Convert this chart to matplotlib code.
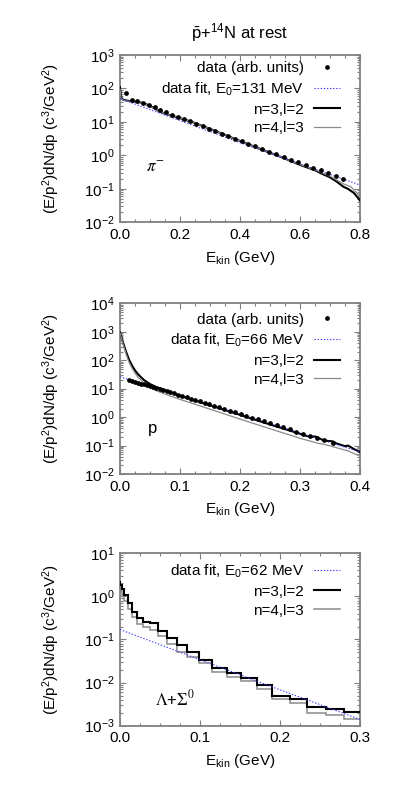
import matplotlib
matplotlib.use('Agg')
import matplotlib.pyplot as plt
from matplotlib.ticker import LogLocator, MultipleLocator, NullFormatter

plt.rcParams['font.family'] = ['Liberation Sans', 'DejaVu Sans']
plt.rcParams['mathtext.fontset'] = 'custom'
plt.rcParams['mathtext.rm'] = 'Liberation Sans'
plt.rcParams['mathtext.it'] = 'Liberation Sans:italic'
plt.rcParams['mathtext.bf'] = 'Liberation Sans:bold'
plt.rcParams['mathtext.sf'] = 'Liberation Sans'

# ---------------- data: pi- panel ----------------
pi_xticks = [0.0, 0.2, 0.4, 0.6, 0.8]
pi_xticklabels = ['0.0', '0.2', '0.4', '0.6', '0.8']
pi_data_x = [0.02, 0.039, 0.058, 0.077, 0.096, 0.115, 0.134, 0.153, 0.173, 0.193,
             0.213, 0.233, 0.254, 0.275, 0.296, 0.317, 0.339, 0.361, 0.383, 0.405,
             0.428, 0.451, 0.474, 0.497, 0.521, 0.545, 0.569, 0.594, 0.619, 0.644,
             0.669, 0.694, 0.719, 0.745]
pi_data_y = [72, 45, 42, 38, 33, 27, 23, 19.5, 16.5, 14.3,
             12.4, 10.5, 8.9, 7.5, 6.3, 5.3, 4.5, 3.75, 3.15, 2.65,
             2.2, 1.85, 1.55, 1.3, 1.08, 0.9, 0.75, 0.63, 0.52, 0.43,
             0.36, 0.3, 0.245, 0.2]
pi_fit_x = [0.0, 0.4, 0.8]
pi_fit_y = [50, 2.4, 0.13]
pi_n3_x = [0.0, 0.003, 0.01, 0.03, 0.05, 0.07, 0.09, 0.11, 0.13, 0.15, 0.2, 0.25, 0.3,
           0.35, 0.4, 0.45, 0.5, 0.55, 0.6, 0.65, 0.667, 0.7, 0.72, 0.745, 0.76, 0.78, 0.8]
pi_n3_y = [110, 55, 46, 42, 40, 38, 33, 27, 21, 17.5, 13, 9.3, 6.2,
           4.1, 2.7, 1.8, 1.2, 0.8, 0.52, 0.36, 0.3, 0.22, 0.17, 0.115, 0.1, 0.075, 0.045]
pi_n4_x = [0.0, 0.003, 0.01, 0.03, 0.05, 0.07, 0.09, 0.11, 0.13, 0.15, 0.2, 0.25, 0.3,
           0.35, 0.4, 0.45, 0.5, 0.55, 0.6, 0.65, 0.7, 0.745, 0.77, 0.8]
pi_n4_y = [95, 52, 44, 41, 39, 37, 32, 26.5, 21, 17.5, 13, 9.3, 6.2,
           4.1, 2.7, 1.8, 1.2, 0.8, 0.53, 0.37, 0.24, 0.14, 0.115, 0.06]

# ---------------- data: proton panel ----------------
p_xticks = [0.0, 0.1, 0.2, 0.3, 0.4]
p_xticklabels = ['0.0', '0.1', '0.2', '0.3', '0.4']
p_data_x = [0.015, 0.02, 0.025, 0.03, 0.035, 0.04, 0.045, 0.05, 0.055, 0.06,
            0.066, 0.072, 0.078, 0.084, 0.09, 0.097, 0.104, 0.111, 0.118, 0.125,
            0.133, 0.141, 0.149, 0.157, 0.165, 0.174, 0.183, 0.192, 0.201, 0.210,
            0.220, 0.230, 0.240, 0.250, 0.261, 0.272, 0.283, 0.294, 0.305, 0.317,
            0.328, 0.340, 0.355]
p_data_y = [19.5, 18.5, 17.3, 16.1, 15.0, 14.0, 13.1, 12.2, 11.4, 10.6,
            9.7, 8.9, 8.1, 7.4, 6.8, 6.1, 5.5, 5.0, 4.5, 4.0,
            3.55, 3.15, 2.8, 2.5, 2.2, 1.93, 1.68, 1.47, 1.28, 1.12,
            0.96, 0.83, 0.71, 0.61, 0.52, 0.44, 0.37, 0.31, 0.265, 0.22,
            0.185, 0.155, 0.125]
p_fit_x = [0.0, 0.2, 0.4]
p_fit_y = [26, 1.24, 0.06]
p_n3_x = [0.0, 0.005, 0.01, 0.015, 0.02, 0.025, 0.03, 0.04, 0.05, 0.06, 0.08, 0.1,
          0.15, 0.2, 0.25, 0.3, 0.31, 0.32, 0.325, 0.34, 0.355, 0.36, 0.375, 0.38, 0.39, 0.4]
p_n3_y = [950, 420, 200, 105, 65, 44, 32, 20, 14.5, 11.5, 8.0, 5.6,
          2.6, 1.2, 0.55, 0.26, 0.22, 0.2, 0.21, 0.15, 0.14, 0.12, 0.095, 0.1, 0.075, 0.06]
p_n4_x = [0.0, 0.005, 0.01, 0.015, 0.02, 0.025, 0.03, 0.04, 0.05, 0.06, 0.08, 0.1,
          0.15, 0.2, 0.25, 0.3, 0.33, 0.34, 0.36, 0.38, 0.4]
p_n4_y = [900, 380, 170, 85, 52, 35, 25, 15.5, 11, 8.5, 5.9, 4.2,
          1.9, 0.85, 0.39, 0.18, 0.12, 0.11, 0.085, 0.065, 0.042]

# ---------------- data: Lambda+Sigma0 panel ----------------
l_xticks = [0.0, 0.1, 0.2, 0.3]
l_xticklabels = ['0.0', '0.1', '0.2', '0.3']
l_edges = [0.0, 0.0006, 0.0024, 0.0053, 0.0094, 0.0147, 0.021, 0.0287, 0.0375, 0.0475,
           0.0586, 0.0708, 0.0843, 0.0988, 0.1154, 0.1333, 0.151, 0.171, 0.190, 0.2125,
           0.234, 0.257, 0.280, 0.305]
l_n3 = [2.3, 1.85, 1.45, 1.07, 0.69, 0.44, 0.31, 0.26, 0.24, 0.16, 0.11, 0.074, 0.05,
        0.0334, 0.0222, 0.017, 0.013, 0.0088, 0.005, 0.0041, 0.00276, 0.0024, 0.0021]
l_n4 = [1.6, 1.3, 1.05, 0.8, 0.5, 0.33, 0.23, 0.2, 0.17, 0.12, 0.08, 0.052, 0.04,
        0.028, 0.0174, 0.0133, 0.0109, 0.007, 0.0042, 0.0033, 0.002, 0.00177, 0.00145]
l_fit_x = [0.0, 0.1, 0.2, 0.3]
l_fit_y = [0.17, 0.034, 0.0068, 0.0014]

W, H = 400, 811
fig = plt.figure(figsize=(W / 100, H / 100), dpi=100)

def make_ax(top_px, bot_px):
    return fig.add_axes([120 / W, 1 - bot_px / H, 240 / W, (bot_px - top_px) / H])

FS = 11
FRAME = '#808080'
BLUE = '#3a3aff'
GRAY = '#8a8a8a'
dotted = (0, (1.2, 1.6))

def style(ax, xticks, xlabels, xmin_step, ymin, ymax):
    ax.set_yscale('log')
    ax.set_xlim(xticks[0], xticks[-1])
    ax.set_ylim(ymin, ymax)
    ax.set_xticks(xticks, xlabels)
    ax.xaxis.set_minor_locator(MultipleLocator(xmin_step))
    ax.yaxis.set_major_locator(LogLocator(base=10, numticks=20))
    ax.yaxis.set_minor_locator(LogLocator(base=10, subs=range(2, 10), numticks=20))
    ax.yaxis.set_minor_formatter(NullFormatter())
    ax.tick_params(which='both', direction='in', top=True, right=True,
                   labelsize=FS, color=FRAME, width=0.8)
    ax.tick_params(which='major', length=4.5, pad=4)
    ax.tick_params(which='minor', length=2.2)
    for s in ax.spines.values():
        s.set_color(FRAME)
        s.set_linewidth(1.3)
    ax.set_xlabel(r'E$_{\mathrm{kin}}$ (GeV)', fontsize=FS, labelpad=5)
    ax.set_ylabel(r'(E/p$^2$)dN/dp (c$^3$/GeV$^2$)', fontsize=FS)
    ax.yaxis.set_label_coords(-0.24, 0.5)

def legend(ax, anchor_y):
    ax.legend(loc='upper right', bbox_to_anchor=(0.917, anchor_y), frameon=False,
              fontsize=FS, markerfirst=False, handlelength=1.7, handletextpad=0.65,
              labelspacing=0.32, borderpad=0, borderaxespad=0, numpoints=1)

# ---- panel 1
ax1 = make_ax(55, 222.3)
ax1.plot(pi_data_x, pi_data_y, 'o', color='black', ms=2.4, label='data (arb. units)', zorder=5)
ax1.plot(pi_fit_x, pi_fit_y, color=BLUE, lw=0.8, ls=dotted, label=r'data fit, E$_0$=131 MeV', zorder=4)
ax1.plot(pi_n3_x, pi_n3_y, color='black', lw=1.5, label='n=3,l=2', zorder=3)
ax1.plot(pi_n4_x, pi_n4_y, color=GRAY, lw=0.9, label='n=4,l=3', zorder=3)
style(ax1, pi_xticks, pi_xticklabels, 0.05, 1e-2, 1e3)
legend(ax1, 0.962)
ax1.text(0.146, 0.33, r'$\pi^{-}$', transform=ax1.transAxes, fontsize=FS + 1,
         math_fontfamily='stix', ha='center', va='center')
fig.text(0.6, 1 - 33 / H, r'$\bar{\mathrm{p}}$+$^{14}$N at rest', ha='center', va='center', fontsize=FS + 1)

# ---- panel 2
ax2 = make_ax(303.3, 474)
ax2.plot(p_data_x, p_data_y, 'o', color='black', ms=2.4, label='data (arb. units)', zorder=5)
ax2.plot(p_fit_x, p_fit_y, color=BLUE, lw=0.8, ls=dotted, label=r'data fit, E$_0$=66 MeV', zorder=4)
ax2.plot(p_n3_x, p_n3_y, color='black', lw=1.5, label='n=3,l=2', zorder=3)
ax2.plot(p_n4_x, p_n4_y, color=GRAY, lw=0.9, label='n=4,l=3', zorder=3)
style(ax2, p_xticks, p_xticklabels, 0.025, 1e-2, 1e4)
legend(ax2, 0.945)
ax2.text(0.1375, 0.264, 'p', transform=ax2.transAxes, fontsize=FS + 1, ha='center', va='center')

# ---- panel 3
ax3 = make_ax(553.3, 725.7)
ax3.plot(l_fit_x, l_fit_y, color=BLUE, lw=0.8, ls=dotted, label=r'data fit, E$_0$=62 MeV', zorder=4)
ax3.stairs(l_n3, l_edges, baseline=None, color='black', lw=1.5, label='n=3,l=2', zorder=3)
ax3.stairs(l_n4, l_edges, baseline=None, color=GRAY, lw=1.1, label='n=4,l=3', zorder=2)
style(ax3, l_xticks, l_xticklabels, 0.025, 1e-3, 1e1)
legend(ax3, 0.947)
ax3.text(0.23, 0.16, r'$\Lambda$+$\Sigma^{0}$', transform=ax3.transAxes, fontsize=FS + 1,
         math_fontfamily='stix', ha='center', va='center')

fig.savefig('out.png', dpi=100)
